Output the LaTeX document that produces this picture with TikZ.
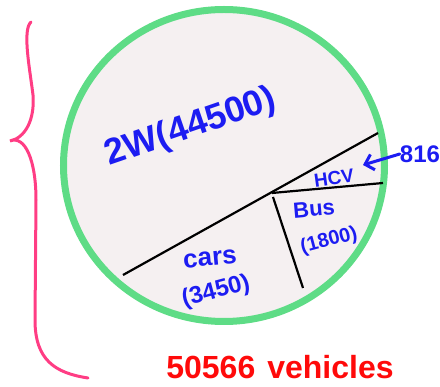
\documentclass[tikz,border=0pt]{standalone}
\usepackage{fontspec}
\setmainfont{Liberation Sans}
\usetikzlibrary{arrows.meta}
\definecolor{ringgreen}{HTML}{5EDC86}
\definecolor{piefill}{HTML}{F5F0F1}
\definecolor{inkblue}{HTML}{1C1CF2}
\definecolor{inkred}{HTML}{FF0A0A}
\definecolor{bracepink}{HTML}{FF3D84}
\tikzset{
  lbl/.style={text=inkblue, inner sep=0pt},
  divider/.style={draw=black, line width=2.2pt},
}
\begin{document}
\begin{tikzpicture}[x=1pt,y=-1pt]
\useasboundingbox (0,0) rectangle (440,387);
% pie
\draw[ringgreen, fill=piefill, line width=7pt] (224,165.5) ellipse [x radius=160.5, y radius=156];
% dividers
\coordinate (hub) at (272,193);
\coordinate (a) at (123,275);
\coordinate (b) at (378,133);
\coordinate (c) at (383,183);
\coordinate (d) at (273,197);
\coordinate (e) at (303,288);
\draw[divider] (a) -- (b);
\draw[divider] (hub) -- (c);
\draw[divider] (d) -- (e);
% labels
\node[lbl, font=\bfseries\fontsize{36}{36}\selectfont, rotate=19] (tw) at (191,128) {2W(44500)};
\node[lbl, font=\bfseries\fontsize{19}{19}\selectfont, rotate=8] (hcv) at (334,178) {HCV};
\node[lbl, font=\bfseries\fontsize{22}{22}\selectfont, rotate=5] (bus) at (314,209) {Bus};
\node[lbl, font=\bfseries\fontsize{20}{20}\selectfont, rotate=15] (busn) at (329,241) {(1800)};
\node[lbl, font=\bfseries\fontsize{26}{26}\selectfont, rotate=5] (cars) at (210,259) {cars};
\node[lbl, font=\bfseries\fontsize{24}{24}\selectfont, rotate=15] (carsn) at (216,292) {(3450)};
\node[lbl, font=\bfseries\fontsize{24}{24}\selectfont] (hcvn) at (420,154) {816};
\coordinate (tip) at (363,165);
\draw[inkblue, line width=3pt, line cap=round, -{Straight Barb[length=8pt,width=16pt]}] (hcvn.west) -- (tip);
% total
\node[text=inkred, inner sep=0pt, font=\bfseries\fontsize{32}{32}\selectfont] (total) at (280,367) {50566\hspace{12pt}vehicles};
% brace
\draw[bracepink, line width=3pt, line cap=round]
  (31,22) .. controls (22,30) and (30,70) .. (33,95)
  .. controls (35,120) and (25,138) .. (10,141)
  .. controls (25,135) and (36,160) .. (36,200)
  -- (35,320) .. controls (35,360) and (55,373) .. (88,378);
\end{tikzpicture}
\end{document}
